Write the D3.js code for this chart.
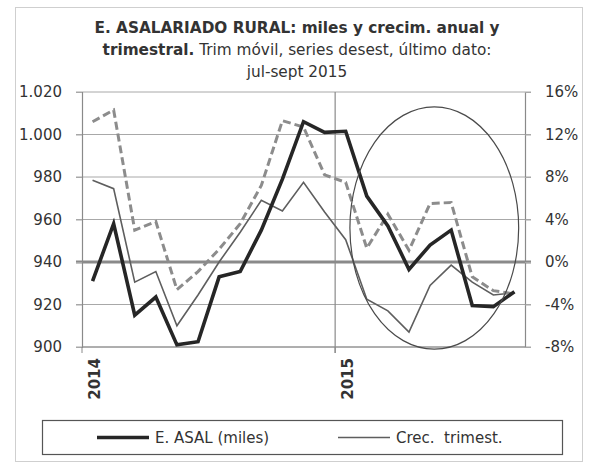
<!DOCTYPE html>
<html>
<head>
<meta charset="utf-8">
<script src="https://cdn.jsdelivr.net/npm/d3@7"></script>
<style>
  body { margin: 0; background: #fff; }
  svg text { font-family: "DejaVu Sans", sans-serif; fill: #333; }
</style>
</head>
<body>
<svg id="chart" width="595" height="465"></svg>
<script>
// meses (trim movil), ene-2014 .. sep-2015
var months = ["2014-01","2014-02","2014-03","2014-04","2014-05","2014-06","2014-07","2014-08","2014-09","2014-10","2014-11","2014-12",
              "2015-01","2015-02","2015-03","2015-04","2015-05","2015-06","2015-07","2015-08","2015-09"];
var yearLabels = ["2014", "2015"];

// E. ASAL (miles)
var asal = [931, 958, 915, 923.5, 901, 902.5, 933, 935.5, 955, 979, 1006, 1001, 1001.5, 971, 957, 936.5, 948, 955, 919.5, 919, 926];
// crec. anual (%)
var anual = [13.2, 14.3, 3.0, 3.8, -2.6, -0.9, 1.2, 3.6, 7.2, 13.3, 12.7, 8.2, 7.5, 1.3, 4.5, 1.1, 5.5, 5.6, -1.4, -2.7, -3.0];
// crec. trimestral (%)
var trim = [7.7, 6.9, -1.9, -0.9, -6.0, -3.1, 0.0, 2.8, 5.8, 4.8, 7.5, 4.7, 2.1, -3.5, -4.6, -6.6, -2.2, -0.3, -1.9, -3.1, -2.9];

var leftTicks = [900, 920, 940, 960, 980, 1000, 1020];
var rightTicks = [-8, -4, 0, 4, 8, 12, 16];

var svg = d3.select("#chart");

var margin = { top: 92, right: 70, bottom: 118, left: 82 },
    width = 595 - margin.left - margin.right,
    height = 465 - margin.top - margin.bottom;

var locale = d3.formatLocale({ decimal: ",", thousands: ".", grouping: [3], currency: ["", "€"] });
var fmtMiles = locale.format(",");

var x = d3.scaleBand().domain(months).range([0, width]).padding(0);
var xc = function (m) { return x(m) + x.bandwidth() / 2; };
var yL = d3.scaleLinear().domain([900, 1020]).range([height, 0]);
var yR = d3.scaleLinear().domain([-8, 16]).range([height, 0]);

// marco exterior
svg.append("rect")
    .attr("x", 15.5).attr("y", 7.5)
    .attr("width", 567).attr("height", 454)
    .attr("fill", "none").attr("stroke", "#cfcfcf");

// titulo
var title = svg.append("text").attr("text-anchor", "middle").style("font-size", "15.3px");
title.append("tspan").attr("x", 297).attr("y", 33).style("font-weight", "bold")
    .text("E. ASALARIADO RURAL: miles y crecim. anual y");
var t2 = title.append("tspan").attr("x", 297).attr("y", 55);
t2.append("tspan").style("font-weight", "bold").text("trimestral.");
t2.append("tspan").text(" Trim móvil, series desest, último dato:");
title.append("tspan").attr("x", 297).attr("y", 77).text("jul-sept 2015");

var g = svg.append("g").attr("transform", "translate(" + margin.left + "," + margin.top + ")");

// rejilla horizontal
g.append("g").selectAll("line")
    .data(leftTicks).enter()
    .append("line")
    .attr("x1", -6).attr("x2", width + 6)
    .attr("y1", function (d) { return yL(d); })
    .attr("y2", function (d) { return yL(d); })
    .attr("stroke", "#a8a8a8").attr("stroke-width", 1);

// linea del 0%
g.append("line")
    .attr("x1", -6).attr("x2", width + 6)
    .attr("y1", yR(0)).attr("y2", yR(0))
    .attr("stroke", "#8a8a8a").attr("stroke-width", 3);

// separador de año
g.append("line")
    .attr("x1", x("2015-01")).attr("x2", x("2015-01"))
    .attr("y1", 0).attr("y2", height + 6)
    .attr("stroke", "#8a8a8a").attr("stroke-width", 1.2);

// ejes
var axisL = g.append("g")
    .call(d3.axisLeft(yL).tickValues(leftTicks).tickFormat(fmtMiles).tickSize(6).tickPadding(14));
var axisR = g.append("g")
    .attr("transform", "translate(" + width + ",0)")
    .call(d3.axisRight(yR).tickValues(rightTicks).tickFormat(function (d) { return d + "%"; }).tickSize(6).tickPadding(14));

[axisL, axisR].forEach(function (a) {
    a.select(".domain").attr("stroke", "#8a8a8a").attr("stroke-width", 1.2);
    a.selectAll(".tick line").attr("stroke", "#a8a8a8");
    a.selectAll(".tick text").style("font-size", "15px").attr("fill", "#333");
});

var axisX = g.append("g").attr("transform", "translate(0," + height + ")");
axisX.append("line").attr("x1", 0).attr("x2", width).attr("stroke", "#8a8a8a");
axisX.selectAll(".yr")
    .data(yearLabels).enter()
    .append("g")
    .attr("class", "yr")
    .each(function (d) {
        var m = d + "-01";
        var gg = d3.select(this);
        gg.append("line")
            .attr("x1", x(m)).attr("x2", x(m))
            .attr("y1", 0).attr("y2", 6)
            .attr("stroke", "#8a8a8a");
        gg.append("text")
            .attr("transform", "translate(" + (xc(m) + 7) + ",11) rotate(-90)")
            .attr("text-anchor", "end")
            .style("font-size", "15px")
            .style("font-weight", "bold")
            .attr("fill", "#333")
            .text(d);
    });

// series
var lineL = d3.line()
    .x(function (d, i) { return xc(months[i]); })
    .y(function (d) { return yL(d); });
var lineR = d3.line()
    .x(function (d, i) { return xc(months[i]); })
    .y(function (d) { return yR(d); });

g.append("path").datum(trim)
    .attr("d", lineR)
    .attr("fill", "none").attr("stroke", "#5e5e5e").attr("stroke-width", 1.6);

g.append("path").datum(anual)
    .attr("d", lineR)
    .attr("fill", "none").attr("stroke", "#8c8c8c").attr("stroke-width", 3)
    .attr("stroke-dasharray", "8,4");

g.append("path").datum(asal)
    .attr("d", lineL)
    .attr("fill", "none").attr("stroke", "#262626").attr("stroke-width", 3.6)
    .attr("stroke-linejoin", "miter");

// elipse (anotacion)
g.append("ellipse")
    .attr("cx", xc("2015-05") + x.bandwidth() * 0.2)
    .attr("cy", yL(956))
    .attr("rx", x.bandwidth() * 4)
    .attr("ry", yL(900) - yL(957))
    .attr("fill", "none").attr("stroke", "#4a4a4a").attr("stroke-width", 1.2);

// leyenda
var legend = svg.append("g");
legend.append("rect")
    .attr("x", 42.5).attr("y", 420.5)
    .attr("width", 520).attr("height", 34)
    .attr("fill", "none").attr("stroke", "#555").attr("stroke-width", 1.2);

var legItems = [
    { name: "E. ASAL (miles)", x: 97, color: "#262626", w: 3.6 },
    { name: "Crec.  trimest.", x: 338, color: "#5e5e5e", w: 1.6 }
];
legItems.forEach(function (d) {
    legend.append("line")
        .attr("x1", d.x).attr("x2", d.x + 52)
        .attr("y1", 437.5).attr("y2", 437.5)
        .attr("stroke", d.color).attr("stroke-width", d.w);
    legend.append("text")
        .attr("x", d.x + 58).attr("y", 443)
        .style("font-size", "15px")
        .style("white-space", "pre")
        .attr("fill", "#333")
        .text(d.name);
});
</script>
</body>
</html>
